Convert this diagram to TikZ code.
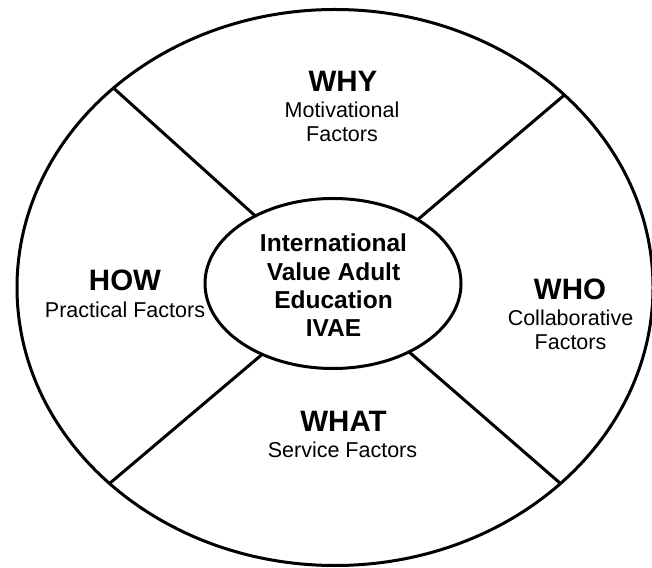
\documentclass[tikz,border=0pt]{standalone}
\usepackage{fontspec}
\setmainfont{Liberation Sans}
\usetikzlibrary{shapes.geometric}
\begin{document}
\begin{tikzpicture}[x=1pt,y=1pt,
  ring/.style={draw=black,line width=3pt,ellipse,inner sep=0pt,outer sep=0pt},
  spoke/.style={draw=black,line width=3pt},
  head/.style={anchor=base,inner sep=0pt,font=\fontsize{29.5}{32}\selectfont\bfseries},
  sub/.style={anchor=base,inner sep=0pt,font=\fontsize{21.5}{25}\selectfont},
  core/.style={anchor=base,inner sep=0pt,font=\fontsize{24.5}{28}\selectfont\bfseries}]
\useasboundingbox (0,0) rectangle (652,567);
\node[ring,minimum width=636pt,minimum height=556pt] (outer) at (335,279.5) {};
\node[ring,minimum width=256pt,minimum height=170pt] (inner) at (333,283.5) {};
\draw[spoke] (inner.139.5) -- (outer.138.9);
\draw[spoke] (inner.37) -- (outer.40.5);
\draw[spoke] (inner.225.2) -- (outer.221.6);
\draw[spoke] (inner.318.7) -- (outer.319.3);
% center
\node[core] (c1) at (333.5,315) {International};
\node[core] (c2) at (333.5,286.5) {Value Adult};
\node[core] (c3) at (333.5,258) {Education};
\node[core] (c4) at (333.5,230) {IVAE};
% why
\node[head] (why) at (343,475) {WHY};
\node[sub] (why1) at (342,449) {Motivational};
\node[sub] (why2) at (342,425) {Factors};
% how
\node[head] (how) at (125,276) {HOW};
\node[sub] (how1) at (125,249.5) {Practical Factors};
% who
\node[head] (who) at (570,267.5) {WHO};
\node[sub] (who1) at (570.5,241.5) {Collaborative};
\node[sub] (who2) at (570.5,217) {Factors};
% what
\node[head] (what) at (343.5,135.5) {WHAT};
\node[sub] (what1) at (342.5,109.5) {Service Factors};
\end{tikzpicture}
\end{document}
